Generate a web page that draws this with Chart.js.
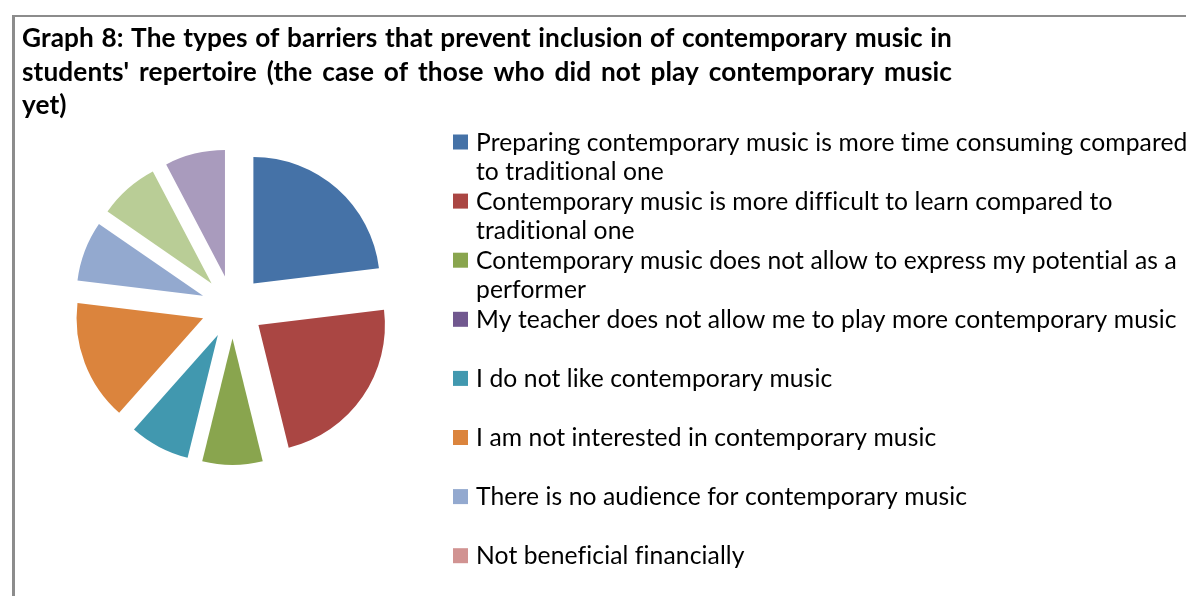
<!DOCTYPE html>
<html>
<head>
<meta charset="utf-8">
<title>Graph 8</title>
<script src="https://cdn.jsdelivr.net/npm/chart.js@4.4.1/dist/chart.umd.min.js"></script>
<style>
  html, body { margin: 0; padding: 0; background: #fff; }
  #wrap { position: relative; width: 1186px; height: 596px; overflow: hidden; }
</style>
</head>
<body>
<div id="wrap"><canvas id="graph8" width="1186" height="596"></canvas></div>
<script>
const titleLines = [
    "Graph 8: The types of barriers that prevent inclusion of contemporary music in",
    "students' repertoire (the case of those who did not play contemporary music",
    "yet)"
];

// wrapped legend entries are kept as arrays of lines
const categories = [
    ['Preparing contemporary music is more time consuming compared', 'to traditional one'],
    ['Contemporary music is more difficult to learn compared to', 'traditional one'],
    ['Contemporary music does not allow to express my potential as a', 'performer'],
    'My teacher does not allow me to play more contemporary music',
    'I do not like contemporary music',
    'I am not interested in contemporary music',
    'There is no audience for contemporary music',
    'Not beneficial financially',
    'Other',
    'Other reasons'
];

const answers = [3, 3, 1, 0, 1, 2, 1, 0, 1, 1];

const sliceColors = [
    '#4572A7', '#AA4643', '#89A54E', '#71588F', '#4198AF',
    '#DB843D', '#93A9CF', '#D19392', '#B9CD96', '#A99BBD'
];

const EXPLODE = 31.5;
const FONT = 'Lato, "Open Sans", sans-serif';

// pull every slice out from the centre, like an exploded Excel pie
const explodedSlices = {
    id: 'explodedSlices',
    beforeDatasetDraw: function (chart, args) {
        const ctx = chart.ctx;
        args.meta.data.forEach(function (arc) {
            if (!arc.circumference) return;
            const mid = (arc.startAngle + arc.endAngle) / 2;
            ctx.save();
            ctx.translate(Math.cos(mid) * EXPLODE, Math.sin(mid) * EXPLODE);
            arc.draw(ctx);
            ctx.restore();
        });
        return false;
    }
};

function drawJustified(ctx, text, x, y, width) {
    const words = text.split(' ');
    const widths = words.map(function (w) { return ctx.measureText(w).width; });
    const total = widths.reduce(function (a, b) { return a + b; }, 0);
    const gap = (width - total) / (words.length - 1);
    let cx = x;
    words.forEach(function (w, i) {
        ctx.fillText(w, cx, y);
        cx += widths[i] + gap;
    });
}

// font size that makes `text` come out `width` px wide
function fitSize(ctx, weight, text, width) {
    ctx.font = weight + ' 100px ' + FONT;
    return 100 * width / ctx.measureText(text).width;
}

const frameAndText = {
    id: 'frameAndText',
    beforeDraw: function (chart) {
        const ctx = chart.ctx;
        ctx.save();
        ctx.fillStyle = '#fff';
        ctx.fillRect(0, 0, chart.width, chart.height);
        ctx.fillStyle = '#8c8c8c';
        ctx.fillRect(12, 15, chart.width - 12, 2);
        ctx.fillRect(12, 15, 3, chart.height - 15);
        ctx.restore();
    },
    afterDraw: function (chart) {
        const ctx = chart.ctx;
        ctx.save();
        ctx.textBaseline = 'alphabetic';
        ctx.textAlign = 'left';
        ctx.fillStyle = '#000';
        ctx.letterSpacing = '0.1px';   // keeps Lato from joining "ti"

        // title, first two lines justified like the document
        const tSize = fitSize(ctx, 'bold', titleLines[0], 912);
        ctx.font = 'bold ' + tSize.toFixed(2) + 'px ' + FONT;
        const titleBase = [47, 81, 114];
        titleLines.forEach(function (line, i) {
            if (i < titleLines.length - 1) {
                drawJustified(ctx, line, 22, titleBase[i], 930);
            } else {
                ctx.fillText(line, 22, titleBase[i]);
            }
        });

        // legend
        const size = fitSize(ctx, 'normal', 'I do not like contemporary music', 354);
        ctx.font = size.toFixed(2) + 'px ' + FONT;
        const labels = chart.data.labels;
        const colors = chart.data.datasets[0].backgroundColor;
        labels.forEach(function (label, i) {
            const top = 134.5 + i * 59.1;
            ctx.fillStyle = colors[i];
            ctx.fillRect(453, top, 15, 15);
            ctx.fillStyle = '#000';
            [].concat(label).forEach(function (line, j) {
                ctx.fillText(line, 476, top + 16 + j * 29.6);
            });
        });
        ctx.restore();
    }
};

new Chart(document.getElementById('graph8'), {
    type: 'pie',
    data: {
        labels: categories,
        datasets: [{
            data: answers,
            backgroundColor: sliceColors,
            borderWidth: 0,
            radius: 126.5
        }]
    },
    options: {
        responsive: false,
        animation: false,
        layout: { padding: { left: 62, top: 137, right: 783, bottom: 119 } },
        plugins: {
            legend: { display: false },
            title: { display: false },
            tooltip: { enabled: false }
        }
    },
    plugins: [explodedSlices, frameAndText]
});
</script>
</body>
</html>
